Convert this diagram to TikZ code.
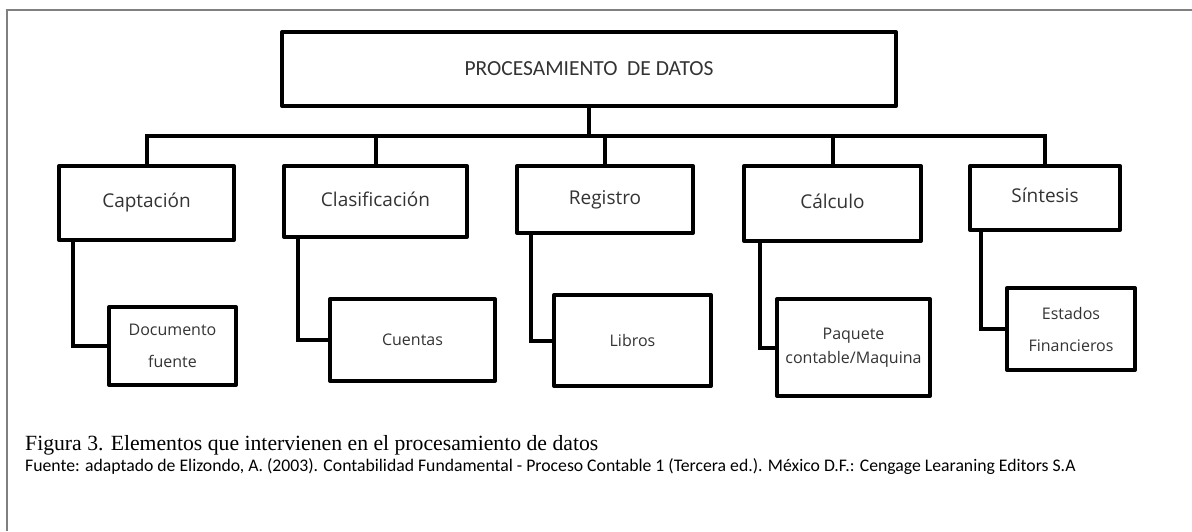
\documentclass[tikz,border=0pt]{standalone}
\usepackage{fontspec}
\setmainfont{Carlito}
\newfontfamily\boxfont{Open Sans}
\newfontfamily\capfont{Liberation Serif}
\begin{document}
\begin{tikzpicture}[x=1pt,y=1pt,
  box/.style={draw=black, line width=4pt, inner sep=0pt, line join=round, text=black!80},
  conn/.style={draw=black, line width=4pt, line join=miter},
  toplabel/.style={font=\fontsize{21.5}{24}\selectfont},
  childlabel/.style={font=\boxfont\fontsize{19}{22}\selectfont, text height=13.5pt, text depth=4.5pt},
  sublabel/.style={font=\boxfont\fontsize{16}{32}\selectfont, align=center},
  captext/.style={anchor=west, inner sep=0pt, text=black}
]
\useasboundingbox (0,0) rectangle (1192,-531);
\draw[gray, line width=1.2pt] (1192,-10) -- (7,-10) -- (7,-531);

% top
\node[box, toplabel, minimum width=614, minimum height=74] (top) at (589,-69) {PROCESAMIENTO\ \ DE DATOS};

% children
\node[box, childlabel, minimum width=175, minimum height=74] (cap) at (146.5,-203) {Captación};
\node[box, childlabel, minimum width=183, minimum height=71] (cla) at (375.5,-201.5) {Clasificación};
\node[box, childlabel, minimum width=176, minimum height=67] (reg) at (605,-199.5) {Registro};
\node[box, childlabel, minimum width=177, minimum height=75] (cal) at (832.5,-203.5) {Cálculo};
\node[box, childlabel, minimum width=150, minimum height=64] (sin) at (1045,-198) {Síntesis};

% sub boxes
\node[box, sublabel, minimum width=127, minimum height=78] (doc) at (172.5,-346) {Documento\\fuente};
\node[box, sublabel, minimum width=165, minimum height=82] (cue) at (412.5,-340) {Cuentas};
\node[box, sublabel, minimum width=157, minimum height=91] (lib) at (632.5,-340.5) {Libros};
\node[box, sublabel, font=\boxfont\fontsize{16}{24}\selectfont, minimum width=153, minimum height=97] (paq) at (853.5,-347.5) {Paquete\\contable/Maquina};
\node[box, sublabel, minimum width=128, minimum height=82] (est) at (1071,-329) {Estados\\Financieros};

% bus
\coordinate (bus) at (0,-136);
\draw[conn] (top.south) -- (top.south |- bus);
\draw[conn] (cap.north) -- (cap.north |- bus) -- (sin.north |- bus) -- (sin.north);
\draw[conn] (cla.north) -- (cla.north |- bus);
\draw[conn] (reg.north) -- (reg.north |- bus);
\draw[conn] (cal.north) -- (cal.north |- bus);

% sub connectors
\draw[conn] ([xshift=16pt]cap.south west) |- (doc.west);
\draw[conn] ([xshift=16pt]cla.south west) |- (cue.west);
\draw[conn] ([xshift=16pt]reg.south west) |- (lib.west);
\draw[conn] ([xshift=18pt]cal.south west) |- (paq.west);
\draw[conn] ([xshift=13pt]sin.south west) |- (est.west);

% caption
\node[captext, font=\capfont\fontsize{21.7}{24}\selectfont] (cap1) at (25,-445) {Figura 3. Elementos que intervienen en el procesamiento de datos};
\node[captext, font=\fontsize{17.7}{20}\selectfont] (cap2) at (25,-467) {Fuente: adaptado de Elizondo, A. (2003). Contabilidad Fundamental - Proceso Contable 1 (Tercera ed.). México D.F.: Cengage Learaning Editors S.A};
\end{tikzpicture}
\end{document}
